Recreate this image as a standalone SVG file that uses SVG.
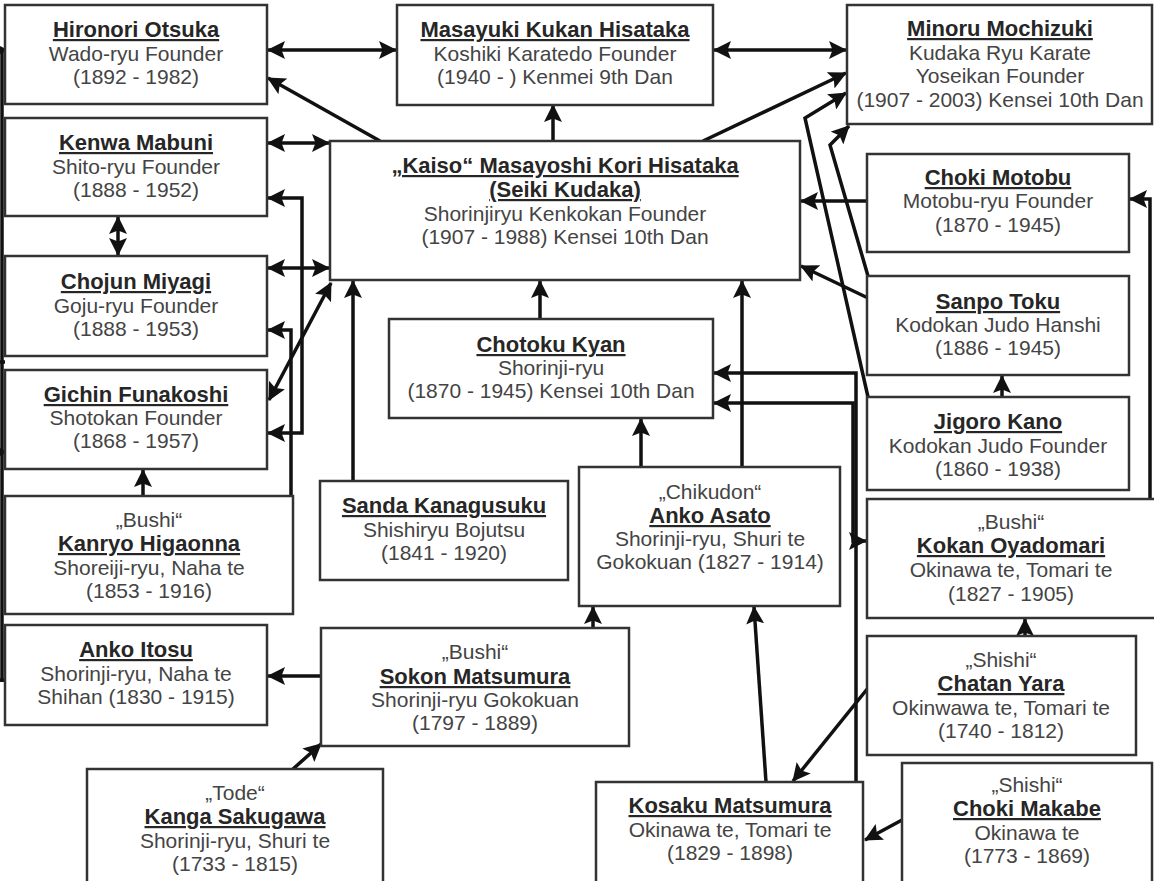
<svg xmlns="http://www.w3.org/2000/svg" width="1154" height="881" viewBox="0 0 1154 881">
<defs>
<marker id="ah" viewBox="0 0 18 18" refX="17" refY="9" markerWidth="18" markerHeight="18" markerUnits="userSpaceOnUse" orient="auto-start-reverse">
<path d="M0,0 L18,9 L0,18 L3.5,9 z" fill="#111"/>
</marker>
<style>
.box{fill:#fff;stroke:#333;stroke-width:2.5}
text{font-family:"Liberation Sans",Arial,sans-serif;text-anchor:middle}
.t{font-size:22px;font-weight:bold;fill:#262626;text-decoration:underline}
.b{font-size:21px;fill:#444}
.c path{fill:none;stroke:#111;stroke-width:3.5}
.e{marker-end:url(#ah)}
.d{marker-start:url(#ah);marker-end:url(#ah)}
</style>
</defs>
<rect width="1154" height="881" fill="#fff"/>
<g class="c" id="connectors">
<path d="M2,682 V48" />
<path d="M0,680 H5" />
<path d="M0,362 H5" />
<path class="e" d="M-12,50 H7" />
<path class="e" d="M-12,452 H7" />
<path class="d" d="M268,50 H396" />
<path class="d" d="M714,50 H846" />
<path class="e" d="M380,141 L268,78" />
<path class="e" d="M553,141 V105" />
<path class="e" d="M703,141 L846,73" />
<path class="e" d="M868,397 L805,118 L846,93" />
<path class="e" d="M868,276 L830,145 L849,126" />
<path class="e" d="M867,201 H801" />
<path class="e" d="M868,298 L801,266" />
<path class="e" d="M1002,397 V376" />
<path class="e" d="M1150,499 V199 H1130" />
<path class="e" d="M856,782 V373 H714" />
<path class="d" d="M866,541 H853 V403 H714" />
<path class="e" d="M742,467 V281" />
<path class="e" d="M641,467 V419" />
<path class="e" d="M540,319 V281" />
<path class="e" d="M353,481 V281" />
<path class="d" d="M269,400 L331,283" />
<path class="d" d="M268,143 H329" />
<path class="d" d="M268,268 H329" />
<path class="d" d="M118,217 V255" />
<path class="e" d="M143,496 V470" />
<path class="e" d="M291,496 V330 H268" />
<path class="d" d="M268,198 H302 V433 H268" />
<path class="e" d="M321,676 H268" />
<path class="e" d="M293,769 L321,744" />
<path class="e" d="M593,628 V607" />
<path class="e" d="M766,782 L754,607" />
<path class="e" d="M868,688 L793,781" />
<path class="e" d="M902,820 L865,840" />
<path class="e" d="M1025,636 V619" />
</g>
<g id="n-otsuka"><rect class="box" x="5" y="5" width="262" height="99"/>
<text x="136" y="37" class="t">Hironori Otsuka</text><text x="136" y="61" class="b">Wado-ryu Founder</text><text x="136" y="84" class="b">(1892 - 1982)</text></g>
<g id="n-mabuni"><rect class="box" x="5" y="118" width="262" height="98"/>
<text x="136" y="150" class="t">Kenwa Mabuni</text><text x="136" y="174" class="b">Shito-ryu Founder</text><text x="136" y="197" class="b">(1888 - 1952)</text></g>
<g id="n-miyagi"><rect class="box" x="5" y="256" width="262" height="100"/>
<text x="136" y="289" class="t">Chojun Miyagi</text><text x="136" y="313" class="b">Goju-ryu Founder</text><text x="136" y="336" class="b">(1888 - 1953)</text></g>
<g id="n-funakoshi"><rect class="box" x="5" y="370" width="262" height="99"/>
<text x="136" y="402" class="t">Gichin Funakoshi</text><text x="136" y="425" class="b">Shotokan Founder</text><text x="136" y="448" class="b">(1868 - 1957)</text></g>
<g id="n-higaonna"><rect class="box" x="5" y="496" width="288" height="118"/>
<text x="149" y="527" class="b">„Bushi“</text><text x="149" y="551" class="t">Kanryo Higaonna</text><text x="149" y="575" class="b">Shoreiji-ryu, Naha te</text><text x="149" y="598" class="b">(1853 - 1916)</text></g>
<g id="n-itosu"><rect class="box" x="5" y="625" width="262" height="100"/>
<text x="136" y="657" class="t">Anko Itosu</text><text x="136" y="681" class="b">Shorinji-ryu, Naha te</text><text x="136" y="704" class="b">Shihan (1830 - 1915)</text></g>
<g id="n-kukan"><rect class="box" x="397" y="5" width="316" height="100"/>
<text x="555" y="37" class="t">Masayuki Kukan Hisataka</text><text x="555" y="61" class="b">Koshiki Karatedo Founder</text><text x="555" y="84" class="b">(1940 - ) Kenmei 9th Dan</text></g>
<g id="n-kaiso"><rect class="box" x="330" y="141" width="470" height="139"/>
<text x="565" y="173" class="t">„Kaiso“ Masayoshi Kori Hisataka</text><text x="565" y="197" class="t">(Seiki Kudaka)</text><text x="565" y="221" class="b">Shorinjiryu Kenkokan Founder</text><text x="565" y="244" class="b">(1907 - 1988) Kensei 10th Dan</text></g>
<g id="n-mochizuki"><rect class="box" x="847" y="5" width="305" height="119"/>
<text x="1000" y="36" class="t">Minoru Mochizuki</text><text x="1000" y="60" class="b">Kudaka Ryu Karate</text><text x="1000" y="83" class="b">Yoseikan Founder</text><text x="1000" y="107" class="b">(1907 - 2003) Kensei 10th Dan</text></g>
<g id="n-motobu"><rect class="box" x="867" y="154" width="262" height="98"/>
<text x="998" y="185" class="t">Choki Motobu</text><text x="998" y="208" class="b">Motobu-ryu Founder</text><text x="998" y="232" class="b">(1870 - 1945)</text></g>
<g id="n-toku"><rect class="box" x="867" y="276" width="262" height="99"/>
<text x="998" y="309" class="t">Sanpo Toku</text><text x="998" y="332" class="b">Kodokan Judo Hanshi</text><text x="998" y="355" class="b">(1886 - 1945)</text></g>
<g id="n-kano"><rect class="box" x="867" y="397" width="262" height="93"/>
<text x="998" y="429" class="t">Jigoro Kano</text><text x="998" y="453" class="b">Kodokan Judo Founder</text><text x="998" y="476" class="b">(1860 - 1938)</text></g>
<g id="n-kyan"><rect class="box" x="389" y="319" width="324" height="99"/>
<text x="551" y="352" class="t">Chotoku Kyan</text><text x="551" y="375" class="b">Shorinji-ryu</text><text x="551" y="398" class="b">(1870 - 1945) Kensei 10th Dan</text></g>
<g id="n-kanagusuku"><rect class="box" x="320" y="481" width="248" height="99"/>
<text x="444" y="513" class="t">Sanda Kanagusuku</text><text x="444" y="537" class="b">Shishiryu Bojutsu</text><text x="444" y="560" class="b">(1841 - 1920)</text></g>
<g id="n-asato"><rect class="box" x="579" y="467" width="261" height="139"/>
<text x="710" y="499" class="b">„Chikudon“</text><text x="710" y="523" class="t">Anko Asato</text><text x="710" y="546" class="b">Shorinji-ryu, Shuri te</text><text x="710" y="569" class="b">Gokokuan (1827 - 1914)</text></g>
<g id="n-oyadomari"><rect class="box" x="867" y="499" width="295" height="119"/>
<text x="1011" y="529" class="b">„Bushi“</text><text x="1011" y="553" class="t">Kokan Oyadomari</text><text x="1011" y="577" class="b">Okinawa te, Tomari te</text><text x="1011" y="601" class="b">(1827 - 1905)</text></g>
<g id="n-sokon"><rect class="box" x="321" y="628" width="308" height="118"/>
<text x="475" y="659" class="b">„Bushi“</text><text x="475" y="684" class="t">Sokon Matsumura</text><text x="475" y="707" class="b">Shorinji-ryu Gokokuan</text><text x="475" y="730" class="b">(1797 - 1889)</text></g>
<g id="n-sakugawa"><rect class="box" x="87" y="769" width="296" height="120"/>
<text x="235" y="800" class="b">„Tode“</text><text x="235" y="824" class="t">Kanga Sakugawa</text><text x="235" y="848" class="b">Shorinji-ryu, Shuri te</text><text x="235" y="871" class="b">(1733 - 1815)</text></g>
<g id="n-kosaku"><rect class="box" x="596" y="782" width="267" height="110"/>
<text x="730" y="813" class="t">Kosaku Matsumura</text><text x="730" y="837" class="b">Okinawa te, Tomari te</text><text x="730" y="860" class="b">(1829 - 1898)</text></g>
<g id="n-yara"><rect class="box" x="867" y="636" width="269" height="119"/>
<text x="1001" y="667" class="b">„Shishi“</text><text x="1001" y="691" class="t">Chatan Yara</text><text x="1001" y="715" class="b">Okinwawa te, Tomari te</text><text x="1001" y="738" class="b">(1740 - 1812)</text></g>
<g id="n-makabe"><rect class="box" x="902" y="763" width="250" height="125"/>
<text x="1027" y="792" class="b">„Shishi“</text><text x="1027" y="816" class="t">Choki Makabe</text><text x="1027" y="840" class="b">Okinawa te</text><text x="1027" y="863" class="b">(1773 - 1869)</text></g>
</svg>
